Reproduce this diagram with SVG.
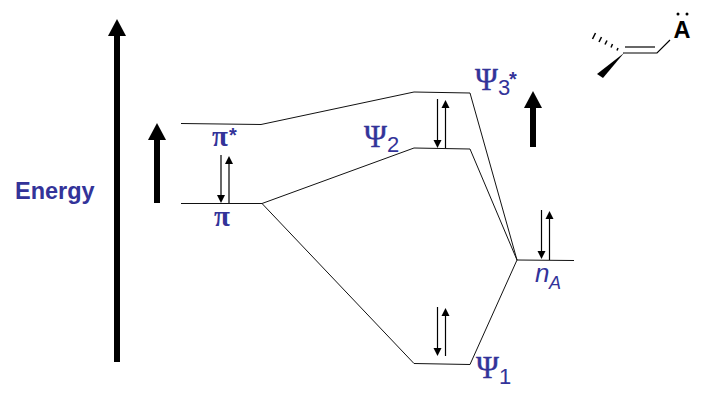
<svg xmlns="http://www.w3.org/2000/svg" width="701" height="400" viewBox="0 0 701 400">
<style>
.lvl{fill:none;stroke:#111;stroke-width:1}
.thick{fill:none;stroke:#000;stroke-width:6}
.e{fill:none;stroke:#000;stroke-width:1.200}
.head{fill:#000}
.lab{fill:#333399;font-family:"Liberation Serif","DejaVu Serif",serif}
.sym{font-size:31px;stroke:#333399;stroke-width:.4}
.sub{font-size:22px;font-family:"Liberation Sans",sans-serif}
.star{font-size:20px;font-weight:bold;font-family:"Liberation Sans",sans-serif}
.pi{font-size:29px;font-weight:bold}
.ital{font-family:"Liberation Sans",sans-serif;font-style:italic}
.hash{stroke:#000;stroke-width:1.500}
</style>
<defs>
<polygon id="ah" class="head" points="0,0 -4,-8 4,-8"/>
<polygon id="au" class="head" points="0,0 -4,8 4,8"/>
<polygon id="big" class="head" points="0,0 -9,17 9,17"/>
</defs>
<rect width="701" height="400" fill="#fff"/>
<g id="connectors">
<polyline class="lvl" points="181,123.500 261,124.500 414,92 470,93 517,260 574,260.500"/>
<polyline class="lvl" points="181,203.500 262,203.500 414,148 470,149 517,260"/>
<polyline class="lvl" points="262,203.500 414,363.500 470,364.500 517,260"/>
</g>
<g id="energy-axis">
<line class="thick" x1="117" y1="35" x2="117" y2="362"/><use href="#big" transform="translate(117,19)"/>
<text x="15" y="199" font-family="'Liberation Sans',sans-serif" font-weight="bold" font-size="23.500" fill="#333399">Energy</text>
</g>
<g id="arrow-pi"><line class="thick" x1="157" y1="140" x2="157" y2="203"/><use href="#big" transform="translate(157,123)"/></g>
<g id="arrow-psi3"><line class="thick" x1="533" y1="107" x2="533" y2="147"/><use href="#big" transform="translate(533,91)"/></g>
<g id="electrons-pi"><line class="e" x1="221" y1="155" x2="221" y2="197"/><use href="#ah" transform="translate(221,203)"/><line class="e" x1="229" y1="163" x2="229" y2="203"/><use href="#au" transform="translate(229,156)"/></g>
<g id="electrons-psi2"><line class="e" x1="437.500" y1="99" x2="437.500" y2="141"/><use href="#ah" transform="translate(437.500,148)"/><line class="e" x1="445.500" y1="107" x2="445.500" y2="148"/><use href="#au" transform="translate(445.500,100)"/></g>
<g id="electrons-psi1"><line class="e" x1="437.500" y1="307" x2="437.500" y2="349"/><use href="#ah" transform="translate(437.500,356)"/><line class="e" x1="445.500" y1="315" x2="445.500" y2="356"/><use href="#au" transform="translate(445.500,308)"/></g>
<g id="electrons-na"><line class="e" x1="541.500" y1="210" x2="541.500" y2="252"/><use href="#ah" transform="translate(541.500,259)"/><line class="e" x1="549.500" y1="218" x2="549.500" y2="260"/><use href="#au" transform="translate(549.500,211)"/></g>
<g id="label-pi-star"><text class="lab pi" x="212" y="146">π</text><text class="lab star" x="229" y="142">*</text></g>
<g id="label-pi"><text class="lab pi" x="214" y="226">π</text></g>
<g id="label-psi3"><text class="lab sym" x="475" y="90">Ψ</text><text class="lab sub" x="498" y="95">3</text><text class="lab star" x="509" y="86">*</text></g>
<g id="label-psi2"><text class="lab sym" x="364" y="147">Ψ</text><text class="lab sub" x="387" y="152">2</text></g>
<g id="label-psi1"><text class="lab sym" x="476" y="378">Ψ</text><text class="lab sub" x="499" y="384">1</text></g>
<g id="label-na"><text class="lab ital" x="535" y="282" font-size="26">n</text><text class="lab ital" x="549" y="289" font-size="18">A</text></g>
<g id="molecule">
<polyline fill="none" stroke="#000" stroke-width="1.200" points="623,53 657,53 670,40"/>
<line x1="625" y1="47" x2="655" y2="47" stroke="#000" stroke-width="1.200"/>
<polygon class="head" points="624,53 597,74 603,78"/>
<line class="hash" x1="592.500" y1="39" x2="595.500" y2="33"/>
<line class="hash" x1="599" y1="42" x2="601.500" y2="37"/>
<line class="hash" x1="605" y1="44.500" x2="607" y2="40.500"/>
<line class="hash" x1="611" y1="47.500" x2="612.500" y2="44"/>
<line class="hash" x1="617" y1="50.500" x2="618" y2="48"/>
<text x="673.500" y="38" font-family="'Liberation Sans',sans-serif" font-weight="bold" font-size="23.500" fill="#000">A</text>
<circle cx="678" cy="14" r="1.500" fill="#000"/><circle cx="687" cy="14" r="1.500" fill="#000"/>
</g>
</svg>
